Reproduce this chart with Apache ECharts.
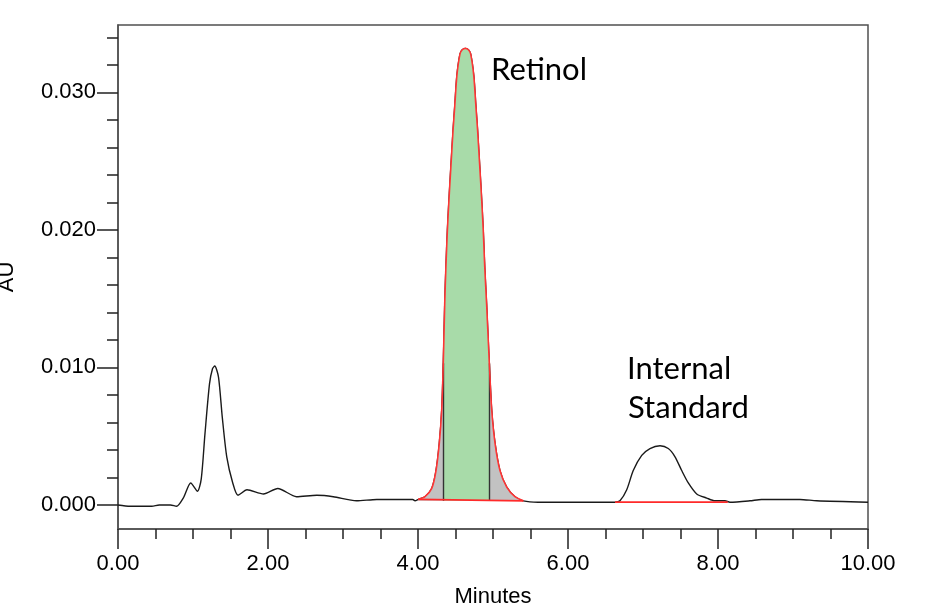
<!DOCTYPE html>
<html>
<head>
<meta charset="utf-8">
<script src="https://cdn.jsdelivr.net/npm/echarts@6/dist/echarts.min.js"></script>
<style>
html,body{margin:0;padding:0;background:#fff;}
#chart{width:925px;height:606px;}
</style>
</head>
<body>
<div id="chart"></div>
<script>
// ---- data ----
const xTickLabels = ['0.00', '2.00', '4.00', '6.00', '8.00', '10.00'];
const yMajorTicks = [0, 0.01, 0.02, 0.03];
const yMinorTicks = [0.002, 0.004, 0.006, 0.008, 0.012, 0.014, 0.016, 0.018,
                     0.022, 0.024, 0.026, 0.028, 0.032, 0.034];

// trace before the retinol peak (minutes, AU)
const traceStart = [
  [0.00, 0.0000], [0.16, -0.0001], [0.45, -0.0001], [0.55, 0.0000], [0.70, 0.0000],
  [0.78, -0.0001], [0.87, 0.0005], [0.97, 0.0016], [1.06, 0.0010], [1.11, 0.0019],
  [1.16, 0.0052], [1.22, 0.0088], [1.26, 0.0099], [1.29, 0.0101], [1.34, 0.0093],
  [1.39, 0.0064], [1.45, 0.0035], [1.53, 0.0016], [1.60, 0.0007], [1.72, 0.0011],
  [1.94, 0.0008], [2.13, 0.0012], [2.38, 0.0006], [2.65, 0.0007], [2.87, 0.0006],
  [3.18, 0.0003], [3.45, 0.0004], [3.76, 0.0004], [3.93, 0.0004], [3.96, 0.0003]
];
// retinol peak
const retinolPeak = [
  [4.004, 0.0004], [4.093, 0.0006], [4.183, 0.0012], [4.240, 0.0025], [4.284, 0.0045],
  [4.316, 0.0069], [4.337, 0.0103], [4.356, 0.0146], [4.372, 0.0173], [4.392, 0.0200],
  [4.418, 0.0227], [4.446, 0.0253], [4.468, 0.0273], [4.490, 0.0290], [4.518, 0.0312],
  [4.560, 0.0328], [4.590, 0.0331], [4.631, 0.0332], [4.672, 0.0331], [4.702, 0.0328],
  [4.744, 0.0312], [4.772, 0.0290], [4.794, 0.0273], [4.816, 0.0253], [4.844, 0.0227],
  [4.870, 0.0200], [4.890, 0.0173], [4.915, 0.0146], [4.951, 0.0103], [4.983, 0.0069],
  [5.027, 0.0045], [5.093, 0.0025], [5.183, 0.0013], [5.293, 0.0006], [5.404, 0.0003]
];
const traceMiddle = [[5.60, 0.0002], [6.00, 0.0002], [6.50, 0.0002]];
// internal standard peak
const standardPeak = [
  [6.627, 0.0002], [6.693, 0.0003], [6.783, 0.0011], [6.870, 0.0025], [6.983, 0.0036],
  [7.093, 0.0041], [7.227, 0.0043], [7.337, 0.0041], [7.427, 0.0035], [7.516, 0.0025],
  [7.604, 0.0016], [7.716, 0.0008], [7.849, 0.0005], [7.960, 0.0003], [8.093, 0.0003],
  [8.160, 0.0002]
];
const traceEnd = [
  [8.427, 0.0003], [8.58, 0.0004], [9.093, 0.0004], [9.316, 0.0003], [10.00, 0.0002]
];
// integration: retinol slice bounds and baselines
const retinolSlice = [4.337, 4.951];
const retinolBaselineLevel = 0.0003;
const retinolBaseline = [[4.004, 0.0004], [5.404, 0.0003]];
const standardBaseline = [[6.627, 0.0002], [8.13, 0.0002]];
const sliceTop = 0.0103;
const annotations = ['Retinol', 'Internal', 'Standard'];

// ---- build ----
const fullTrace = [].concat(traceStart, retinolPeak, traceMiddle, standardPeak, traceEnd);
const greenPart = retinolPeak.filter(p => p[0] >= retinolSlice[0] && p[0] <= retinolSlice[1]);

const axisColor = '#505050';
const labelFont = 'Liberation Sans, Arial, sans-serif';
const smoothVal = 0.25;

const chart = echarts.init(document.getElementById('chart'), null, {renderer: 'canvas'});
chart.setOption({
  animation: false,
  grid: {left: 118, top: 25, right: 57, bottom: 77, show: true, containLabel: false,
         outerBoundsMode: 'none',
         borderColor: axisColor, borderWidth: 1.5, backgroundColor: '#fff'},
  xAxis: {
    type: 'value', min: 0, max: 10, interval: 2,
    name: 'Minutes', nameLocation: 'middle', nameGap: 57,
    nameTextStyle: {fontSize: 22, color: '#000', fontFamily: labelFont},
    axisLine: {show: true, onZero: false, lineStyle: {color: axisColor, width: 1.5}},
    axisTick: {show: true, length: 20, lineStyle: {color: '#222', width: 1.5}},
    minorTick: {show: true, splitNumber: 4, length: 10, lineStyle: {color: '#222', width: 1.5}},
    splitLine: {show: false},
    axisLabel: {fontSize: 22, color: '#000', fontFamily: labelFont, margin: 24,
                formatter: v => xTickLabels[Math.round(v / 2)] || v.toFixed(2)}
  },
  yAxis: [{
    type: 'value', min: -0.00175, max: 0.0349,
    name: 'AU', nameLocation: 'middle', nameGap: 100, nameRotate: 90,
    nameTextStyle: {fontSize: 22, color: '#000', fontFamily: labelFont},
    axisLine: {show: true, onZero: false, lineStyle: {color: axisColor, width: 1.5}},
    axisTick: {show: true, length: 21, customValues: yMajorTicks, lineStyle: {color: '#222', width: 1.5}},
    splitLine: {show: false},
    axisLabel: {fontSize: 22, color: '#000', fontFamily: labelFont, margin: 22,
                customValues: yMajorTicks, formatter: v => v.toFixed(3)}
  }, {
    type: 'value', min: -0.00175, max: 0.0349, position: 'left', offset: 0,
    axisLine: {show: false, onZero: false},
    axisTick: {show: true, length: 11, customValues: yMinorTicks, lineStyle: {color: '#222', width: 1.5}},
    axisLabel: {show: false},
    splitLine: {show: false}
  }],
  series: [
    {type: 'line', name: 'trace', data: fullTrace, showSymbol: false, smooth: smoothVal,
     lineStyle: {color: '#1a1a1a', width: 1.4}, z: 2},
    {type: 'line', name: 'retinolArea', data: retinolPeak, showSymbol: false, smooth: smoothVal,
     lineStyle: {width: 0}, areaStyle: {color: '#c2c2c2', opacity: 1, origin: retinolBaselineLevel}, z: 3},
    {type: 'line', name: 'retinolSlice', data: greenPart, showSymbol: false, smooth: smoothVal,
     lineStyle: {width: 0}, areaStyle: {color: '#a8dba9', opacity: 1, origin: retinolBaselineLevel}, z: 4,
     markLine: {silent: true, symbol: 'none', label: {show: false},
       lineStyle: {color: '#333', width: 1.4, type: 'solid'},
       data: [
         [{coord: [retinolSlice[0], retinolBaselineLevel]}, {coord: [retinolSlice[0], sliceTop]}],
         [{coord: [retinolSlice[1], retinolBaselineLevel]}, {coord: [retinolSlice[1], sliceTop]}]
       ]}},
    {type: 'line', name: 'retinolCurve', data: retinolPeak, showSymbol: false, smooth: smoothVal,
     lineStyle: {color: '#ff3535', width: 1.6}, z: 6},
    {type: 'line', name: 'retinolBase', data: retinolBaseline, showSymbol: false,
     lineStyle: {color: '#ff2a2a', width: 1.8}, z: 6},
    {type: 'line', name: 'standardBase', data: standardBaseline, showSymbol: false,
     lineStyle: {color: '#ff2a2a', width: 1.8}, z: 6}
  ],
  graphic: [
    {type: 'text', x: 491, y: 70, style: {text: annotations[0], font: '31px Lato, sans-serif', fill: '#000', verticalAlign: 'middle'}},
    {type: 'text', x: 627, y: 369, style: {text: annotations[1], font: '31px Lato, sans-serif', fill: '#000', verticalAlign: 'middle'}},
    {type: 'text', x: 628, y: 408, style: {text: annotations[2], font: '31px Lato, sans-serif', fill: '#000', verticalAlign: 'middle'}}
  ]
});
</script>
</body>
</html>
